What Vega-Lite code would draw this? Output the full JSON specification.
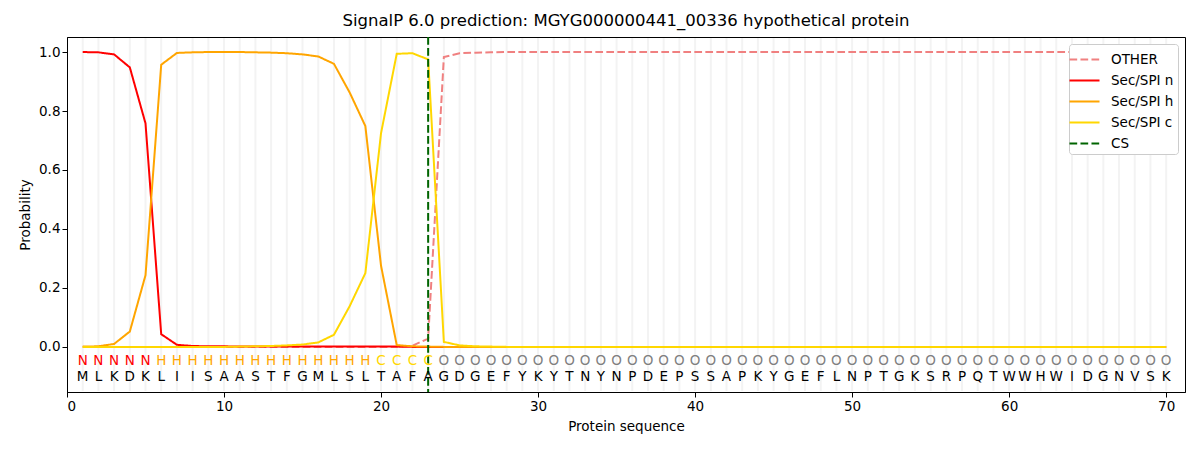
{
  "$schema": "https://vega.github.io/schema/vega-lite/v6.json",
  "width": 1118,
  "height": 355,
  "autosize": {"type": "none"},
  "padding": {"left": 67, "top": 37, "right": 15, "bottom": 58},
  "background": "white",
  "title": {
    "text": "SignalP 6.0 prediction: MGYG000000441_00336 hypothetical protein",
    "fontSize": 16.5,
    "fontWeight": "normal",
    "color": "black",
    "offset": 7
  },
  "config": {
    "font": "DejaVu Sans",
    "view": {"stroke": "black", "strokeWidth": 1},
    "axis": {
      "grid": false,
      "domainColor": "black",
      "tickColor": "black",
      "labelColor": "black",
      "titleColor": "black",
      "labelFontSize": 13.5,
      "titleFontSize": 13.5,
      "titleFontWeight": "normal",
      "tickSize": 5,
      "labelPadding": 2
    },
    "legend": {
      "orient": "top-right",
      "offset": 7,
      "fillColor": "white",
      "strokeColor": "#cccccc",
      "cornerRadius": 3,
      "padding": 4,
      "labelFontSize": 13.5,
      "labelColor": "black",
      "labelOffset": 15,
      "symbolType": "M-1.43,0H1.43",
      "symbolStrokeWidth": 2,
      "symbolSize": 441,
      "rowPadding": 3
    }
  },
  "datasets": {
    "seq": [
      {"pos": 1, "aa": "M", "lab": "N", "other": 0, "n": 1.0, "h": 0.001, "c": 0},
      {"pos": 2, "aa": "L", "lab": "N", "other": 0, "n": 0.999, "h": 0.002, "c": 0},
      {"pos": 3, "aa": "K", "lab": "N", "other": 0, "n": 0.992, "h": 0.01, "c": 0},
      {"pos": 4, "aa": "D", "lab": "N", "other": 0, "n": 0.948, "h": 0.052, "c": 0},
      {"pos": 5, "aa": "K", "lab": "N", "other": 0, "n": 0.758, "h": 0.243, "c": 0},
      {"pos": 6, "aa": "L", "lab": "H", "other": 0, "n": 0.043, "h": 0.957, "c": 0},
      {"pos": 7, "aa": "I", "lab": "H", "other": 0, "n": 0.007, "h": 0.997, "c": 0},
      {"pos": 8, "aa": "I", "lab": "H", "other": 0, "n": 0.003, "h": 0.999, "c": 0},
      {"pos": 9, "aa": "S", "lab": "H", "other": 0, "n": 0.002, "h": 1.0, "c": 0},
      {"pos": 10, "aa": "A", "lab": "H", "other": 0, "n": 0.002, "h": 1.0, "c": 0},
      {"pos": 11, "aa": "A", "lab": "H", "other": 0, "n": 0.001, "h": 1.0, "c": 0.001},
      {"pos": 12, "aa": "S", "lab": "H", "other": 0, "n": 0.001, "h": 0.999, "c": 0.002},
      {"pos": 13, "aa": "T", "lab": "H", "other": 0, "n": 0.001, "h": 0.998, "c": 0.003},
      {"pos": 14, "aa": "F", "lab": "H", "other": 0, "n": 0.001, "h": 0.996, "c": 0.005},
      {"pos": 15, "aa": "G", "lab": "H", "other": 0, "n": 0.001, "h": 0.992, "c": 0.008},
      {"pos": 16, "aa": "M", "lab": "H", "other": 0, "n": 0.001, "h": 0.985, "c": 0.015},
      {"pos": 17, "aa": "L", "lab": "H", "other": 0, "n": 0.001, "h": 0.96, "c": 0.041},
      {"pos": 18, "aa": "S", "lab": "H", "other": 0, "n": 0.001, "h": 0.863, "c": 0.138},
      {"pos": 19, "aa": "L", "lab": "H", "other": 0, "n": 0.001, "h": 0.749, "c": 0.25},
      {"pos": 20, "aa": "T", "lab": "C", "other": 0, "n": 0.001, "h": 0.275, "c": 0.725},
      {"pos": 21, "aa": "A", "lab": "C", "other": 0, "n": 0.001, "h": 0.006, "c": 0.994},
      {"pos": 22, "aa": "F", "lab": "C", "other": 0.004, "n": 0, "h": 0.002, "c": 0.996},
      {"pos": 23, "aa": "A", "lab": "C", "other": 0.028, "n": 0, "h": 0.001, "c": 0.975},
      {"pos": 24, "aa": "G", "lab": "O", "other": 0.983, "n": 0, "h": 0, "c": 0.017},
      {"pos": 25, "aa": "D", "lab": "O", "other": 0.996, "n": 0, "h": 0, "c": 0.005},
      {"pos": 26, "aa": "G", "lab": "O", "other": 0.998, "n": 0, "h": 0, "c": 0.002},
      {"pos": 27, "aa": "E", "lab": "O", "other": 0.999, "n": 0, "h": 0, "c": 0.001},
      {"pos": 28, "aa": "F", "lab": "O", "other": 1.0, "n": 0, "h": 0, "c": 0},
      {"pos": 29, "aa": "Y", "lab": "O", "other": 1.0, "n": 0, "h": 0, "c": 0},
      {"pos": 30, "aa": "K", "lab": "O", "other": 1.0, "n": 0, "h": 0, "c": 0},
      {"pos": 31, "aa": "Y", "lab": "O", "other": 1.0, "n": 0, "h": 0, "c": 0},
      {"pos": 32, "aa": "T", "lab": "O", "other": 1.0, "n": 0, "h": 0, "c": 0},
      {"pos": 33, "aa": "N", "lab": "O", "other": 1.0, "n": 0, "h": 0, "c": 0},
      {"pos": 34, "aa": "Y", "lab": "O", "other": 1.0, "n": 0, "h": 0, "c": 0},
      {"pos": 35, "aa": "N", "lab": "O", "other": 1.0, "n": 0, "h": 0, "c": 0},
      {"pos": 36, "aa": "P", "lab": "O", "other": 1.0, "n": 0, "h": 0, "c": 0},
      {"pos": 37, "aa": "D", "lab": "O", "other": 1.0, "n": 0, "h": 0, "c": 0},
      {"pos": 38, "aa": "E", "lab": "O", "other": 1.0, "n": 0, "h": 0, "c": 0},
      {"pos": 39, "aa": "P", "lab": "O", "other": 1.0, "n": 0, "h": 0, "c": 0},
      {"pos": 40, "aa": "S", "lab": "O", "other": 1.0, "n": 0, "h": 0, "c": 0},
      {"pos": 41, "aa": "S", "lab": "O", "other": 1.0, "n": 0, "h": 0, "c": 0},
      {"pos": 42, "aa": "A", "lab": "O", "other": 1.0, "n": 0, "h": 0, "c": 0},
      {"pos": 43, "aa": "P", "lab": "O", "other": 1.0, "n": 0, "h": 0, "c": 0},
      {"pos": 44, "aa": "K", "lab": "O", "other": 1.0, "n": 0, "h": 0, "c": 0},
      {"pos": 45, "aa": "Y", "lab": "O", "other": 1.0, "n": 0, "h": 0, "c": 0},
      {"pos": 46, "aa": "G", "lab": "O", "other": 1.0, "n": 0, "h": 0, "c": 0},
      {"pos": 47, "aa": "E", "lab": "O", "other": 1.0, "n": 0, "h": 0, "c": 0},
      {"pos": 48, "aa": "F", "lab": "O", "other": 1.0, "n": 0, "h": 0, "c": 0},
      {"pos": 49, "aa": "L", "lab": "O", "other": 1.0, "n": 0, "h": 0, "c": 0},
      {"pos": 50, "aa": "N", "lab": "O", "other": 1.0, "n": 0, "h": 0, "c": 0},
      {"pos": 51, "aa": "P", "lab": "O", "other": 1.0, "n": 0, "h": 0, "c": 0},
      {"pos": 52, "aa": "T", "lab": "O", "other": 1.0, "n": 0, "h": 0, "c": 0},
      {"pos": 53, "aa": "G", "lab": "O", "other": 1.0, "n": 0, "h": 0, "c": 0},
      {"pos": 54, "aa": "K", "lab": "O", "other": 1.0, "n": 0, "h": 0, "c": 0},
      {"pos": 55, "aa": "S", "lab": "O", "other": 1.0, "n": 0, "h": 0, "c": 0},
      {"pos": 56, "aa": "R", "lab": "O", "other": 1.0, "n": 0, "h": 0, "c": 0},
      {"pos": 57, "aa": "P", "lab": "O", "other": 1.0, "n": 0, "h": 0, "c": 0},
      {"pos": 58, "aa": "Q", "lab": "O", "other": 1.0, "n": 0, "h": 0, "c": 0},
      {"pos": 59, "aa": "T", "lab": "O", "other": 1.0, "n": 0, "h": 0, "c": 0},
      {"pos": 60, "aa": "W", "lab": "O", "other": 1.0, "n": 0, "h": 0, "c": 0},
      {"pos": 61, "aa": "W", "lab": "O", "other": 1.0, "n": 0, "h": 0, "c": 0},
      {"pos": 62, "aa": "H", "lab": "O", "other": 1.0, "n": 0, "h": 0, "c": 0},
      {"pos": 63, "aa": "W", "lab": "O", "other": 1.0, "n": 0, "h": 0, "c": 0},
      {"pos": 64, "aa": "I", "lab": "O", "other": 1.0, "n": 0, "h": 0, "c": 0},
      {"pos": 65, "aa": "D", "lab": "O", "other": 1.0, "n": 0, "h": 0, "c": 0},
      {"pos": 66, "aa": "G", "lab": "O", "other": 1.0, "n": 0, "h": 0, "c": 0},
      {"pos": 67, "aa": "N", "lab": "O", "other": 1.0, "n": 0, "h": 0, "c": 0},
      {"pos": 68, "aa": "V", "lab": "O", "other": 1.0, "n": 0, "h": 0, "c": 0},
      {"pos": 69, "aa": "S", "lab": "O", "other": 1.0, "n": 0, "h": 0, "c": 0},
      {"pos": 70, "aa": "K", "lab": "O", "other": 1.0, "n": 0, "h": 0, "c": 0}
    ],
    "cs": [{"key": "cs", "pos": 23}]
  },
  "encoding": {
    "x": {
      "field": "pos",
      "type": "quantitative",
      "title": "Protein sequence",
      "scale": {"domain": [0, 71.2], "nice": false, "zero": false},
      "axis": {"values": [0, 10, 20, 30, 40, 50, 60, 70], "titlePadding": 7}
    }
  },
  "layer": [
    {
      "data": {"name": "seq"},
      "mark": {"type": "rule", "color": "#f3f3f3", "strokeWidth": 2},
      "encoding": {
        "y": {"datum": 1.048},
        "y2": {"datum": -0.15}
      }
    },
    {
      "data": {"name": "seq"},
      "transform": [{"fold": ["other", "n", "h", "c"], "as": ["key", "p"]}],
      "mark": {"type": "line", "strokeWidth": 2},
      "encoding": {
        "y": {
          "field": "p",
          "type": "quantitative",
          "title": "Probability",
          "scale": {"domain": [-0.153, 1.051], "nice": false, "zero": false},
          "axis": {"values": [0, 0.2, 0.4, 0.6, 0.8, 1.0], "format": ".1f", "titlePadding": 6}
        },
        "color": {
          "field": "key",
          "type": "nominal",
          "title": null,
          "scale": {
            "domain": ["other", "n", "h", "c", "cs"],
            "range": ["#f08080", "#ff0000", "#ffa500", "#ffd700", "#006400"]
          },
          "legend": {
            "labelExpr": "{'other': 'OTHER', 'n': 'Sec/SPI n', 'h': 'Sec/SPI h', 'c': 'Sec/SPI c', 'cs': 'CS'}[datum.label]"
          }
        },
        "strokeDash": {
          "field": "key",
          "type": "nominal",
          "title": null,
          "scale": {
            "domain": ["other", "n", "h", "c", "cs"],
            "range": [[7.7, 3.3], [1, 0], [1, 0], [1, 0], [7.7, 3.3]]
          },
          "legend": {
            "labelExpr": "{'other': 'OTHER', 'n': 'Sec/SPI n', 'h': 'Sec/SPI h', 'c': 'Sec/SPI c', 'cs': 'CS'}[datum.label]"
          }
        }
      }
    },
    {
      "data": {"name": "cs"},
      "mark": {"type": "rule", "strokeWidth": 2},
      "encoding": {
        "color": {"field": "key", "type": "nominal", "title": null},
        "strokeDash": {"field": "key", "type": "nominal", "title": null}
      }
    },
    {
      "data": {"name": "seq"},
      "mark": {"type": "text", "fontSize": 13.5, "baseline": "middle"},
      "encoding": {
        "y": {"datum": -0.047},
        "text": {"field": "lab"},
        "color": {
          "condition": [
            {"test": "datum.lab === 'N'", "value": "#ff0000"},
            {"test": "datum.lab === 'H'", "value": "#ffa500"},
            {"test": "datum.lab === 'C'", "value": "#ffd700"}
          ],
          "value": "#808080"
        }
      }
    },
    {
      "data": {"name": "seq"},
      "mark": {"type": "text", "fontSize": 13.5, "baseline": "middle", "color": "black"},
      "encoding": {
        "y": {"datum": -0.101},
        "text": {"field": "aa"}
      }
    }
  ]
}
